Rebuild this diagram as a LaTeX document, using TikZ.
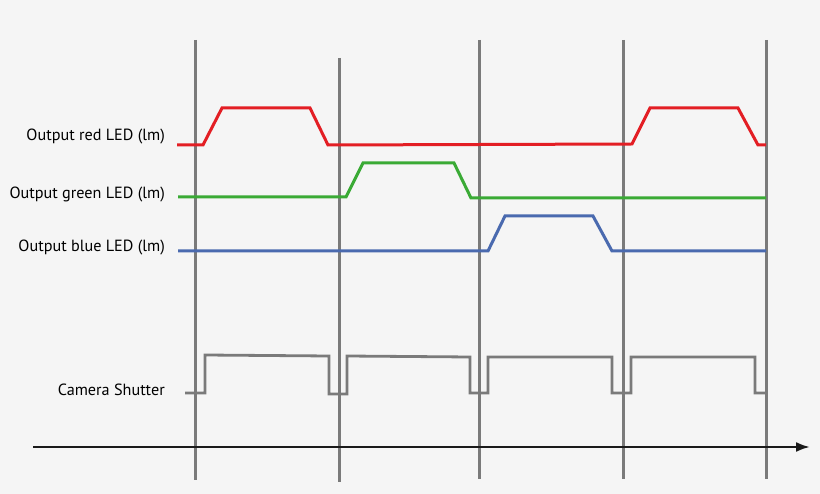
\documentclass[tikz,border=0pt]{standalone}
\usepackage{fontspec}
\setmainfont{PT Sans}
\usetikzlibrary{arrows.meta}
\definecolor{bg}{HTML}{F5F5F5}
\definecolor{ledred}{HTML}{E31E24}
\definecolor{ledgreen}{HTML}{3AAA35}
\definecolor{ledblue}{HTML}{4A6AAF}
\definecolor{gridgray}{HTML}{7A7A7A}
\definecolor{axisblack}{HTML}{1A1A1A}
\tikzset{
  vline/.style={draw=gridgray, line width=3pt},
  sig/.style={line width=3pt, line join=miter},
  shut/.style={draw=gridgray, line width=2.8pt, line join=miter},
  lbl/.style={anchor=east, inner sep=0pt, font=\fontsize{16.2}{18}\selectfont, text=black},
}
\begin{document}
\begin{tikzpicture}[x=1pt,y=-1pt]
\fill[bg] (0,0) rectangle (820,494);
\useasboundingbox (0,0) rectangle (820,494);
% vertical frame lines
\draw[vline] (195,40) -- (195,480);
\draw[vline] (339,58) -- (339,482);
\draw[vline] (479,40) -- (479,479);
\draw[vline] (623,40) -- (623,479);
\draw[vline] (766,40) -- (766,479);
% time axis
\coordinate (axs) at (33,447);
\coordinate (axe) at (810,447);
\draw[draw=axisblack, line width=2.4pt, -{Latex[length=14pt,width=10pt]}] (axs) -- (axe);
% red LED
\draw[sig, ledred] (177,145) -- (203,145) -- (222,108) -- (310,108) -- (328,145) -- (632,144) -- (650,108) -- (738,108) -- (758,145) -- (766,145);
% green LED
\draw[sig, ledgreen] (178,197) -- (346,197) -- (363,163) -- (454,163) -- (471,198) -- (766,198);
% blue LED
\draw[sig, ledblue] (178,251) -- (488,251) -- (505,216) -- (593,216) -- (612,251) -- (766,251);
% camera shutter
\draw[shut] (185,393) -- (205,393) -- (205,355) -- (329,356) -- (329,394) -- (347,394) -- (347,356) -- (470,357) -- (470,393) -- (488,393) -- (488,357) -- (612,357) -- (612,393) -- (631,393) -- (631,357) -- (755,357) -- (755,393) -- (765,393);
% labels
\node[lbl] (lred) at (165,137) {Output red LED (lm)};
\node[lbl] (lgreen) at (165,195) {Output green LED (lm)};
\node[lbl] (lblue) at (165,248) {Output blue LED (lm)};
\node[lbl] (lcam) at (165,390) {Camera Shutter};
\end{tikzpicture}
\end{document}
